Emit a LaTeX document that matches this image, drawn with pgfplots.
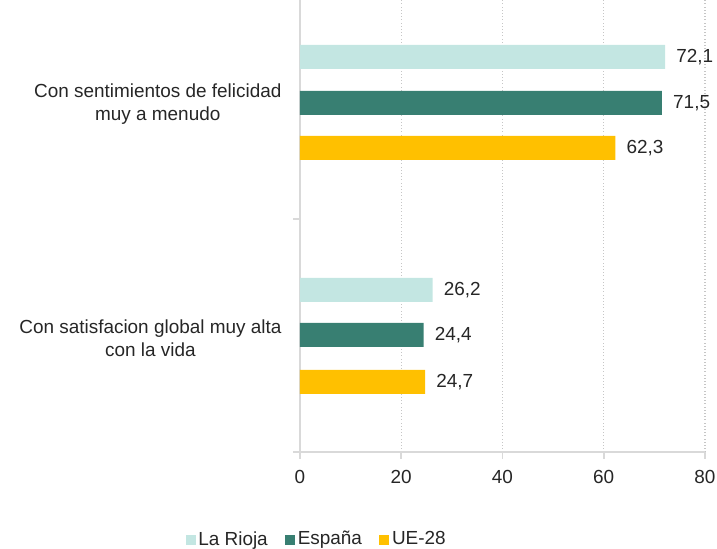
\documentclass[border=0pt]{standalone}
\usepackage{pgfplots}
\pgfplotsset{compat=1.18}
\usepackage{fontspec}
\setmainfont{Liberation Sans}
\definecolor{rioja}{HTML}{C3E6E2}
\definecolor{espana}{HTML}{387F72}
\definecolor{ue}{HTML}{FFC000}
\definecolor{axgray}{HTML}{D9D9D9}
\definecolor{txt}{HTML}{262626}
\begin{document}
\fontsize{14.2}{17}\selectfont
\begin{tikzpicture}[x=0.75pt,y=0.75pt]
\begin{axis}[
  scale only axis,
  width=303.75pt, height=349.5pt,
  xmin=0, xmax=80, ymin=-452, ymax=14,
  xbar, bar width=24, bar shift=0pt,
  axis x line*=bottom, axis y line*=left,
  axis line style={axgray, line width=1.5pt},
  xtick={0,20,40,60,80},
  tick align=outside,
  major tick length=5pt,
  tick style={axgray, line width=1.2pt},
  xmajorgrids, grid style={gray!45, dotted, line width=0.8pt},
  ytick={-452,-219,14}, yticklabels={},
  extra y ticks={-104,-338},
  extra y tick labels={{Con sentimientos de felicidad\\muy a menudo},{Con satisfacion global muy alta\\con la vida}},
  extra y tick style={major tick length=0pt, yticklabel style={align=center, font=\fontsize{14.2}{17}\selectfont, xshift=-9pt}},
  ticklabel style={font=\fontsize{14.2}{17}\selectfont, text=txt},
  xticklabel style={yshift=-3.5pt},
  /pgf/number format/assume math mode=true,
  nodes near coords,
  nodes near coords style={anchor=west, xshift=3.5pt, font=\fontsize{14.2}{17}\selectfont, text=txt,
    /pgf/number format/.cd, fixed, fixed zerofill, precision=1, use comma, assume math mode=true},
  clip=false,
  legend style={at={(0.042,-0.188)}, anchor=center, draw=none, legend columns=3,
    font=\fontsize{14.2}{17}\selectfont, text=txt, inner sep=0pt,
    /tikz/every odd column/.append style={column sep=0pt},
    /tikz/every even column/.append style={column sep=11pt}},
  legend image code/.code={\fill[#1] (0pt,-3.75pt) rectangle (7.5pt,3.75pt);},
]
\addplot[fill=rioja, draw=none] coordinates {(72.1,-57) (26.2,-290)};
\addplot[fill=espana, draw=none] coordinates {(71.5,-103) (24.4,-335)};
\addplot[fill=ue, draw=none] coordinates {(62.3,-148) (24.7,-382)};
\legend{La Rioja, España, UE-28}
\coordinate (bl) at (axis cs:-59.26,-549);
\coordinate (tr) at (axis cs:82.37,0);
\end{axis}
\pgfresetboundingbox
\useasboundingbox (bl) rectangle (tr);
\end{tikzpicture}
\end{document}
